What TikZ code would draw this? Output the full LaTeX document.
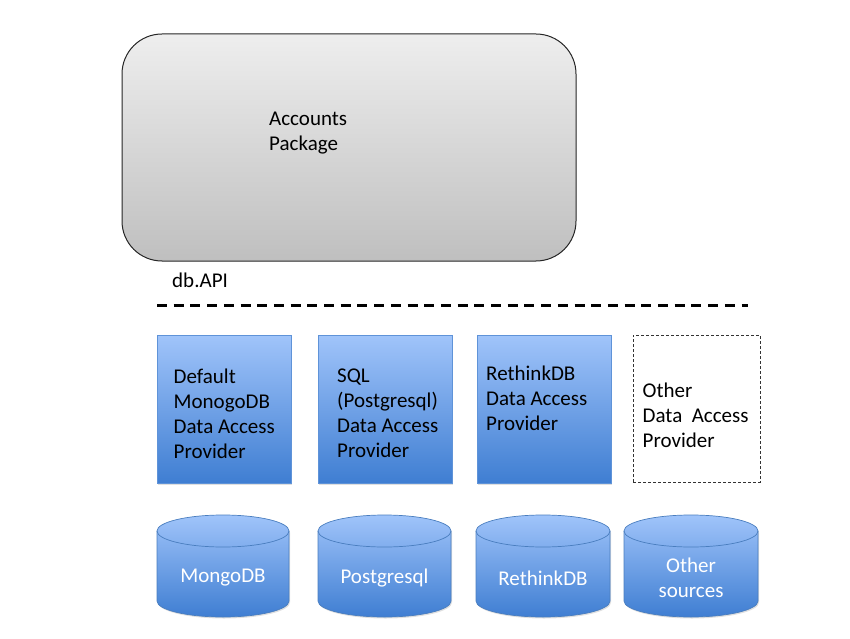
\documentclass[tikz,border=0pt]{standalone}
\usepackage{fontspec}
\setmainfont{Carlito}
\usetikzlibrary{shadows}
\definecolor{blueTop}{HTML}{A0C4FA}
\definecolor{blueBot}{HTML}{3F7ED2}
\definecolor{blueLine}{HTML}{5F93D8}
\definecolor{cylLine}{HTML}{4A7EBF}
\definecolor{grayTop}{HTML}{EEEEEE}
\definecolor{grayBot}{HTML}{BFBFBF}
\tikzset{
  every node/.style={font=\fontsize{21}{25}\selectfont},
  pkgbox/.style={draw=black!85, line width=1pt, rounded corners=40pt, top color=grayTop, bottom color=grayBot},
  provbox/.style={draw=blueLine, line width=0.7pt, top color=blueTop, bottom color=blueBot,
    drop shadow={shadow xshift=1.2pt, shadow yshift=-1.5pt, opacity=0.25}},
  otherbox/.style={draw=black!80, line width=0.9pt, dash pattern=on 3pt off 2pt},
  lbl/.style={inner sep=0pt, align=left, anchor=west, text=black},
  cyltext/.style={inner sep=0pt, align=center, text=white},
  cylbody/.style={draw=cylLine, line width=0.7pt, top color=blueTop, bottom color=blueBot},
  apiline/.style={line width=3pt, dash pattern=on 10pt off 6.7pt}
}
\newcommand\mycyl[5]{%
  % #1 name, #2 left x, #3 right x, #4 text y, #5 text
  \pgfmathsetmacro\rx{(#3-#2)/2}%
  \pgfmathsetmacro\cx{(#3+#2)/2}%
  \shade[cylbody, drop shadow={shadow xshift=1pt, shadow yshift=-1.5pt, opacity=0.25}]
    (#2,107) -- (#2,37) arc[start angle=180, end angle=360, x radius=\rx, y radius=16]
    -- (#3,107) arc[start angle=0, end angle=180, x radius=\rx, y radius=16] -- cycle;
  \draw[cylLine, line width=0.7pt] (#2,107) arc[start angle=180, end angle=360, x radius=\rx, y radius=16];
  \node[cyltext] (#1) at (\cx,#4) {#5};%
}
\begin{document}
\begin{tikzpicture}[x=1pt,y=1pt]
\useasboundingbox (0,0) rectangle (850,638);
% accounts package
\draw[pkgbox] (122,377) rectangle (576,604);
\node[lbl] (acc) at (269,504.5) {Accounts\\Package};
% db.API
\node[inner sep=0pt, anchor=base west] (api) at (172,351) {db.API};
\coordinate (dl) at (157,333);
\coordinate (dr) at (748,333);
\draw[apiline] (dl) -- (dr);
% providers
\path[provbox] (157,155) rectangle (291,303);
\path[provbox] (318,155) rectangle (452,303);
\path[provbox] (477,155) rectangle (611,303);
\draw[otherbox] (633,156) rectangle (760,303);
\node[lbl] (p1) at (173.5,224) {Default\\MonogoDB\\Data Access\\Provider};
\node[lbl] (p2) at (337,225) {SQL\\(Postgresql)\\Data Access\\Provider};
\node[lbl] (p3) at (486,240) {RethinkDB\\Data Access\\Provider};
\node[lbl] (p4) at (642.5,223) {Other\\Data\ \ Access\\Provider};
% databases
\mycyl{c1}{157}{289}{60}{MongoDB}
\mycyl{c2}{318}{451}{60}{Postgresql}
\mycyl{c3}{476}{610}{60}{RethinkDB}
\mycyl{c4}{624}{758}{60.5}{Other\\sources}
\end{tikzpicture}
\end{document}
